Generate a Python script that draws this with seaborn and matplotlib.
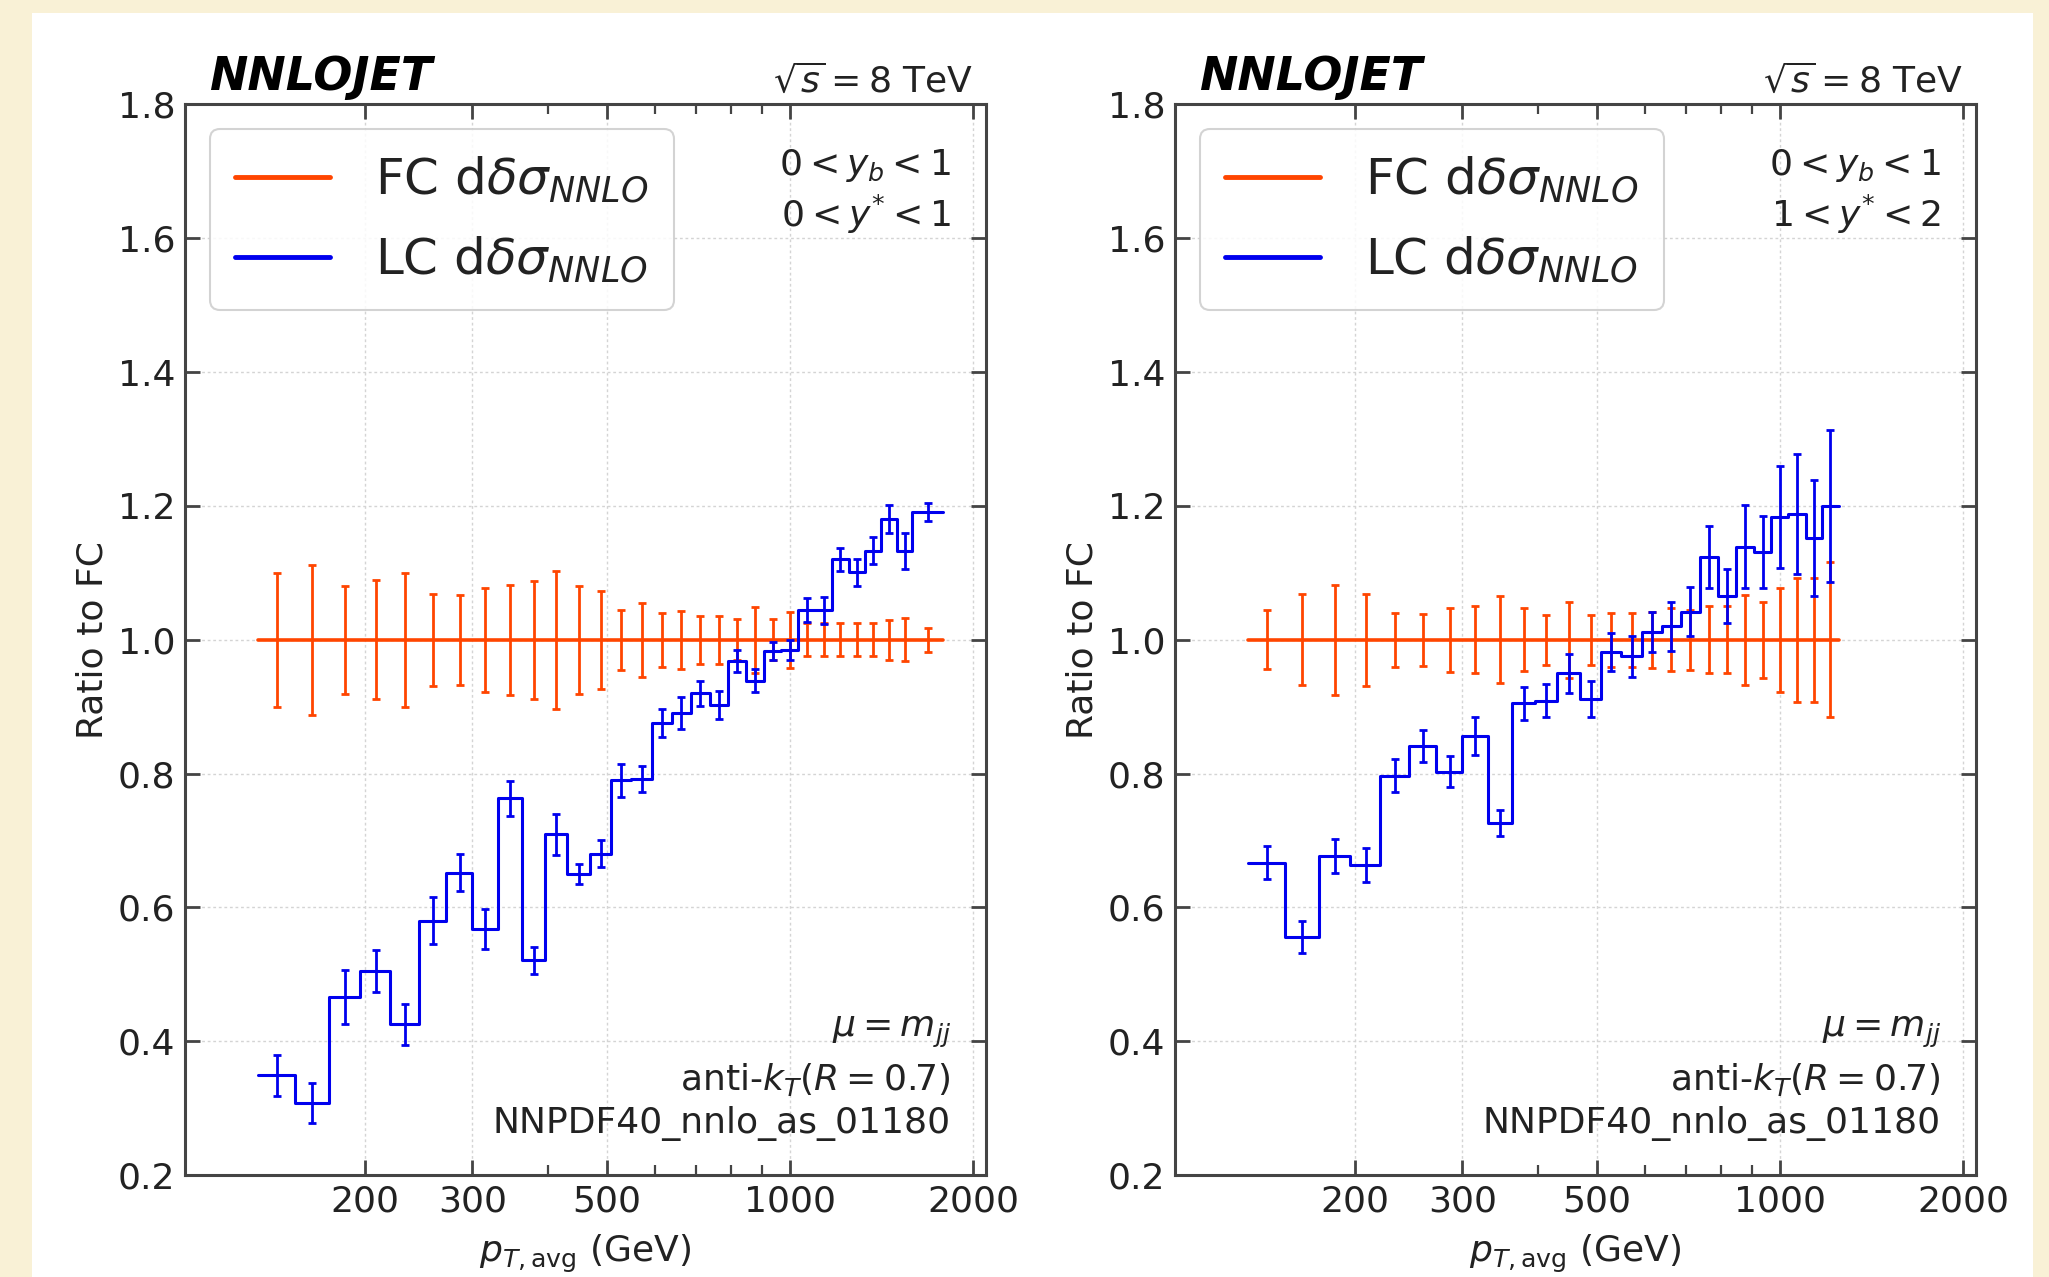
import numpy as np
import pandas as pd
import matplotlib
matplotlib.use("Agg")
import matplotlib.pyplot as plt
import seaborn as sns
from matplotlib.lines import Line2D
from matplotlib.patches import Rectangle
from matplotlib.ticker import NullFormatter

# ---------------- data ----------------
edges_left = [133, 153, 174, 196, 220, 245, 272, 300, 330, 362, 395, 430, 468, 507, 548,
              592, 638, 686, 737, 790, 846, 905, 967, 1032, 1101, 1172, 1248, 1327, 1410,
              1497, 1588, 1784]
fc_err_left = [0.100, 0.112, 0.081, 0.089, 0.100, 0.069, 0.067, 0.078, 0.082, 0.088, 0.103,
               0.081, 0.073, 0.045, 0.055, 0.040, 0.043, 0.036, 0.036, 0.031, 0.049, 0.031,
               0.042, 0.025, 0.025, 0.025, 0.025, 0.025, 0.030, 0.032, 0.018]
lc_left = [0.349, 0.307, 0.466, 0.505, 0.425, 0.580, 0.652, 0.568, 0.763, 0.521, 0.709,
           0.650, 0.680, 0.790, 0.792, 0.876, 0.891, 0.920, 0.903, 0.968, 0.939, 0.983,
           0.985, 1.044, 1.044, 1.120, 1.101, 1.133, 1.180, 1.133, 1.191]
lc_err_left = [0.031, 0.030, 0.040, 0.032, 0.030, 0.035, 0.028, 0.030, 0.026, 0.020, 0.030,
               0.015, 0.020, 0.025, 0.020, 0.021, 0.024, 0.019, 0.021, 0.016, 0.017, 0.014,
               0.015, 0.018, 0.020, 0.017, 0.020, 0.020, 0.021, 0.027, 0.014]

edges_right = [133, 153, 174, 196, 220, 245, 272, 300, 330, 362, 395, 430, 468, 507, 548,
               592, 638, 686, 737, 790, 846, 905, 967, 1032, 1101, 1172, 1248]
fc_err_right = [0.044, 0.068, 0.082, 0.069, 0.040, 0.039, 0.048, 0.050, 0.065, 0.047, 0.037,
                0.057, 0.037, 0.040, 0.040, 0.042, 0.047, 0.045, 0.050, 0.050, 0.067, 0.057,
                0.078, 0.093, 0.093, 0.116]
lc_right = [0.667, 0.556, 0.677, 0.663, 0.797, 0.841, 0.803, 0.856, 0.726, 0.905, 0.909,
            0.950, 0.911, 0.982, 0.975, 1.012, 1.020, 1.042, 1.124, 1.065, 1.139, 1.131,
            1.183, 1.188, 1.152, 1.200]
lc_err_right = [0.025, 0.024, 0.025, 0.025, 0.025, 0.024, 0.023, 0.028, 0.019, 0.025, 0.025,
                0.029, 0.027, 0.028, 0.031, 0.030, 0.037, 0.037, 0.046, 0.040, 0.062, 0.054,
                0.076, 0.090, 0.087, 0.113]

x_major = [200, 300, 500, 1000, 2000]
x_major_labels = ["200", "300", "500", "1000", "2000"]
x_minor = [400, 600, 700, 800, 900]
y_ticks = [0.2, 0.4, 0.6, 0.8, 1.0, 1.2, 1.4, 1.6, 1.8]
y_tick_labels = ["0.2", "0.4", "0.6", "0.8", "1.0", "1.2", "1.4", "1.6", "1.8"]

legend_labels = [r"FC d$\delta\sigma_{NNLO}$", r"LC d$\delta\sigma_{NNLO}$"]
ystar_left = r"$0 < y^{*} < 1$"
ystar_right = r"$1 < y^{*} < 2$"

# ---------------- style ----------------
sns.set_theme(style="ticks")
plt.rcParams["font.family"] = ["DejaVu Sans"]
plt.rcParams["mathtext.fontset"] = "dejavusans"

FC_COLOR = "#ff4500"
LC_COLOR = "#0000ee"
BEIGE = "#f9f1d6"
SPINE = "#444444"
FS = 26

W, H = 2049, 1277
fig = plt.figure(figsize=(W / 100, H / 100), dpi=100)
fig.patch.set_facecolor(BEIGE)
fig.add_artist(Rectangle((32 / W, 0), (2033 - 32) / W, (H - 13) / H,
                         transform=fig.transFigure, facecolor="white",
                         edgecolor="none", zorder=-10))

ax_h = (1175 - 104.5) / H
ax_w = 801 / W
ax_b = 1 - 1175 / H
axL = fig.add_axes([185 / W, ax_b, ax_w, ax_h])
axR = fig.add_axes([1175 / W, ax_b, ax_w, ax_h])


def draw_panel(ax, edges, fc_err, lc, lc_err, ystar):
    edges = np.asarray(edges, float)
    lc = np.asarray(lc, float)
    centers = 0.5 * (edges[:-1] + edges[1:])
    fc = np.ones(len(centers))
    df_fc = pd.DataFrame({"pt": edges, "ratio": np.append(fc, fc[-1])})
    df_lc = pd.DataFrame({"pt": edges, "ratio": np.append(lc, lc[-1])})

    sns.lineplot(data=df_fc, x="pt", y="ratio", drawstyle="steps-post", color=FC_COLOR,
                 lw=2.6, ax=ax, estimator=None, legend=False, zorder=2)
    ax.errorbar(centers, fc, yerr=fc_err, fmt="none", ecolor=FC_COLOR, elinewidth=2,
                capsize=3, capthick=2, zorder=2)
    sns.lineplot(data=df_lc, x="pt", y="ratio", drawstyle="steps-post", color=LC_COLOR,
                 lw=2.2, ax=ax, estimator=None, legend=False, zorder=3)
    ax.errorbar(centers, lc, yerr=lc_err, fmt="none", ecolor=LC_COLOR, elinewidth=2,
                capsize=3, capthick=2, zorder=3)

    ax.set_xscale("log")
    ax.set_xlim(101, 2100)
    ax.set_ylim(0.2, 1.8)
    ax.set_xticks(x_major, labels=x_major_labels)
    ax.set_xticks(x_minor, minor=True)
    ax.xaxis.set_minor_formatter(NullFormatter())
    ax.set_yticks(y_ticks, labels=y_tick_labels)
    ax.tick_params(which="both", direction="in", top=True, right=True, labelsize=FS,
                   pad=7, color=SPINE, labelcolor="#222222")
    ax.tick_params(which="major", length=11, width=2.0)
    ax.tick_params(which="minor", length=7, width=1.6)
    ax.grid(True, which="major", linestyle=(0, (2, 2)), color="#d4d4d4", linewidth=1.0)
    for sp in ax.spines.values():
        sp.set_color(SPINE)
        sp.set_linewidth(2.2)
        sp.set_visible(True)

    ax.set_xlabel(r"$p_{T,\mathrm{avg}}$ (GeV)", fontsize=FS, labelpad=10, color="#222222")
    ax.set_ylabel("Ratio to FC", fontsize=FS, labelpad=6, color="#222222")

    tr = ax.transAxes
    ax.text(0.03, 1.0135, "NNLOJET", transform=tr, fontsize=33, fontweight="bold",
            fontstyle="italic", ha="left", va="baseline", color="black")
    ax.text(0.984, 1.0117, r"$\sqrt{s} = 8$ TeV", transform=tr, fontsize=FS,
            ha="right", va="baseline", color="#222222")
    ax.text(0.956, 0.934, r"$0 < y_b < 1$", transform=tr, fontsize=FS, ha="right",
            va="baseline", color="#222222")
    ax.text(0.956, 0.886, ystar, transform=tr, fontsize=FS, ha="right",
            va="baseline", color="#222222")
    ax.text(0.956, 0.129, r"$\mu = m_{jj}$", transform=tr, fontsize=FS, ha="right",
            va="baseline", color="#222222")
    ax.text(0.956, 0.0794, r"anti-$k_T$$(R = 0.7)$", transform=tr, fontsize=FS,
            ha="right", va="baseline", color="#222222")
    ax.text(0.956, 0.039, "NNPDF40_nnlo_as_01180", transform=tr, fontsize=FS,
            ha="right", va="baseline", color="#222222")

    handles = [Line2D([], [], color=FC_COLOR, lw=3.5), Line2D([], [], color=LC_COLOR, lw=3.5)]
    leg = ax.legend(handles=handles, labels=legend_labels, loc="upper left", fontsize=36,
                    frameon=True, fancybox=True, framealpha=0.85, edgecolor="#cccccc",
                    handlelength=1.9, handletextpad=0.9, borderpad=0.5, labelspacing=0.6)
    leg.get_frame().set_linewidth(1.5)
    for t in leg.get_texts():
        t.set_color("#222222")


draw_panel(axL, edges_left, fc_err_left, lc_left, lc_err_left, ystar_left)
draw_panel(axR, edges_right, fc_err_right, lc_right, lc_err_right, ystar_right)

fig.savefig("out.png", dpi=100, facecolor=fig.get_facecolor())
